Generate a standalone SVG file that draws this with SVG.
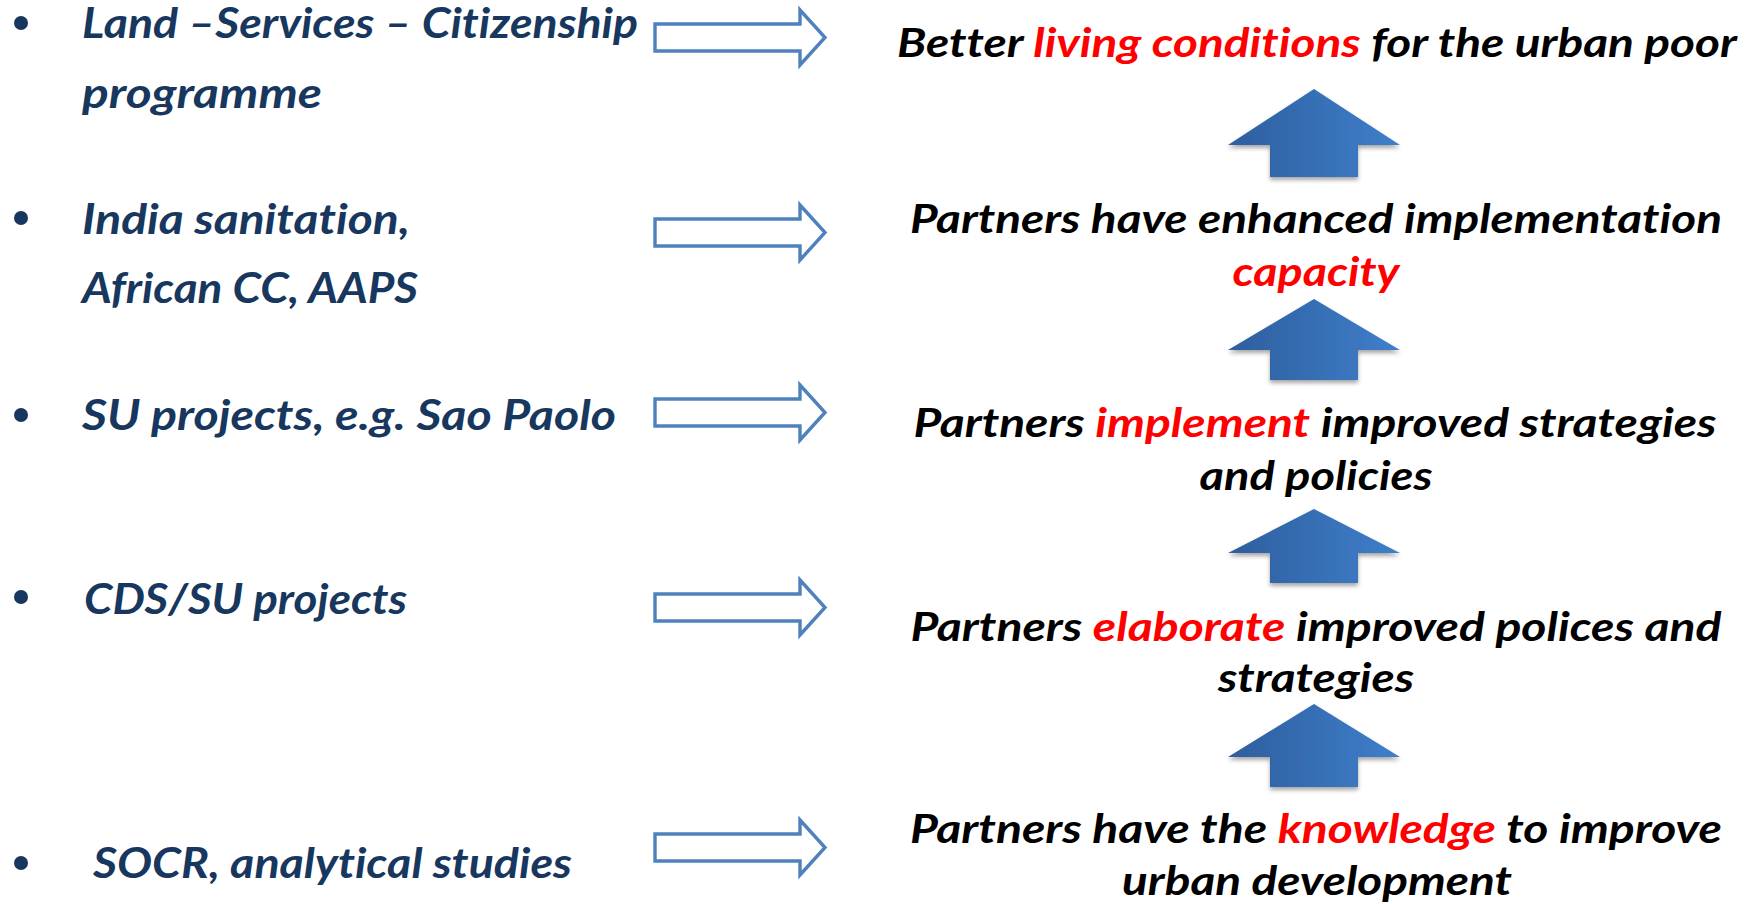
<svg xmlns="http://www.w3.org/2000/svg" width="1751" height="904" viewBox="0 0 1751 904">
<style>
.l{font-family:Lato,"Open Sans","Liberation Sans",sans-serif;font-weight:bold;font-style:italic;font-size:42px;fill:#17375E;font-variant-ligatures:none}
.r{font-family:Lato,"Open Sans","Liberation Sans",sans-serif;font-weight:bold;font-style:italic;font-size:40px;fill:#000;text-anchor:middle;font-variant-ligatures:none}
.red{fill:#FF0000}
.bul{fill:#17375E}
.ha{fill:#fff;stroke:#4F81BD;stroke-width:3.4}
.ua{fill:url(#ug);filter:url(#sh)}
</style>
<defs>
<linearGradient id="ug" x1="0" y1="0" x2="1" y2="0">
<stop offset="0" stop-color="#2D5E9E"/>
<stop offset="1" stop-color="#3F7FCB"/>
</linearGradient>
<filter id="sh" x="-20%" y="-20%" width="140%" height="140%">
<feDropShadow dx="0" dy="3" stdDeviation="2" flood-color="#000" flood-opacity="0.35"/>
</filter>
</defs>
<rect width="1751" height="904" fill="#fff"/>
<g id="inputs">
<g id="in1"><circle class="bul" cx="21" cy="23" r="7"/><text class="l" x="82" y="38" textLength="556" lengthAdjust="spacingAndGlyphs">Land –Services – Citizenship</text><text class="l" x="82" y="108" textLength="240" lengthAdjust="spacingAndGlyphs">programme</text></g>
<g id="in2"><circle class="bul" cx="21" cy="218" r="7"/><text class="l" x="82" y="234" textLength="328" lengthAdjust="spacingAndGlyphs">India sanitation,</text><text class="l" x="82" y="303" textLength="336" lengthAdjust="spacingAndGlyphs">African CC, AAPS</text></g>
<g id="in3"><circle class="bul" cx="21" cy="415" r="7"/><text class="l" x="82" y="430" textLength="534" lengthAdjust="spacingAndGlyphs">SU projects, e.g. Sao Paolo</text></g>
<g id="in4"><circle class="bul" cx="21" cy="597" r="7"/><text class="l" x="84" y="614" textLength="323" lengthAdjust="spacingAndGlyphs">CDS/SU projects</text></g>
<g id="in5"><circle class="bul" cx="21" cy="863" r="7"/><text class="l" x="93" y="878" textLength="479" lengthAdjust="spacingAndGlyphs">SOCR, analytical studies</text></g>
</g>
<g id="outcomes">
<g id="out1"><text class="r" x="1317" y="57" textLength="840" lengthAdjust="spacingAndGlyphs">Better <tspan class="red">living conditions</tspan> for the urban poor</text></g>
<g id="out2"><text class="r" x="1316" y="233" textLength="812" lengthAdjust="spacingAndGlyphs">Partners have enhanced implementation</text><text class="r red" x="1316" y="286" textLength="167" lengthAdjust="spacingAndGlyphs">capacity</text></g>
<g id="out3"><text class="r" x="1315" y="437" textLength="803" lengthAdjust="spacingAndGlyphs">Partners <tspan class="red">implement</tspan> improved strategies</text><text class="r" x="1316" y="490" textLength="233" lengthAdjust="spacingAndGlyphs">and policies</text></g>
<g id="out4"><text class="r" x="1316" y="641" textLength="811" lengthAdjust="spacingAndGlyphs">Partners <tspan class="red">elaborate</tspan> improved polices and</text><text class="r" x="1316" y="692" textLength="196" lengthAdjust="spacingAndGlyphs">strategies</text></g>
<g id="out5"><text class="r" x="1316" y="843" textLength="812" lengthAdjust="spacingAndGlyphs">Partners have the <tspan class="red">knowledge</tspan> to improve</text><text class="r" x="1317" y="895" textLength="390" lengthAdjust="spacingAndGlyphs">urban development</text></g>
</g>
<g id="connectors">
<path class="ha" d="M655,24 H800 V10 L825,37.5 L800,65 V51 H655 Z"/>
<path class="ha" d="M655,219 H800 V205 L825,232.5 L800,260 V246 H655 Z"/>
<path class="ha" d="M655,399 H800 V385 L825,412.5 L800,440 V426 H655 Z"/>
<path class="ha" d="M655,594 H800 V580 L825,607.5 L800,635 V621 H655 Z"/>
<path class="ha" d="M655,834 H800 V820 L825,847.5 L800,875 V861 H655 Z"/>
<path class="ua" d="M1314,89 L1400,145 H1358 V177 H1270 V145 H1228 Z"/>
<path class="ua" d="M1314,299 L1400,350 H1358 V380 H1270 V350 H1228 Z"/>
<path class="ua" d="M1314,509 L1400,553 H1358 V583 H1270 V553 H1228 Z"/>
<path class="ua" d="M1314,704 L1400,757 H1358 V787 H1270 V757 H1228 Z"/>
</g>
</svg>
